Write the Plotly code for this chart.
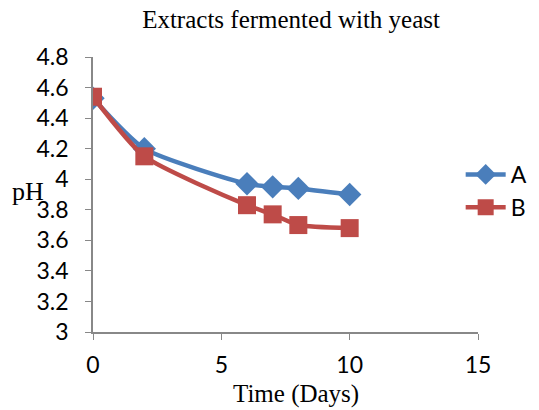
import plotly.graph_objects as go

days = [0, 2, 6, 7, 8, 10]
ph_a = [4.53, 4.20, 3.97, 3.95, 3.94, 3.90]
ph_b = [4.54, 4.15, 3.83, 3.77, 3.70, 3.68]
x_ticks = [0, 5, 10, 15]
y_ticks = [3, 3.2, 3.4, 3.6, 3.8, 4, 4.2, 4.4, 4.6, 4.8]
y_tick_text = ["3", "3.2", "3.4", "3.6", "3.8", "4", "4.2", "4.4", "4.6", "4.8"]

fig = go.Figure()
fig.add_trace(go.Scatter(x=days, y=ph_a, name="A", mode="lines+markers",
                         line=dict(color="#4A7EBB", width=4.5, shape="spline", smoothing=0.6),
                         marker=dict(symbol="diamond", size=18, color="#4A7EBB")))
fig.add_trace(go.Scatter(x=days, y=ph_b, name="B", mode="lines+markers",
                         line=dict(color="#BE4B48", width=4.5, shape="spline", smoothing=0.6),
                         marker=dict(symbol="square", size=18, color="#BE4B48")))

fig.update_layout(
    width=539, height=410,
    margin=dict(l=93, r=61, t=57, b=78, autoexpand=False),
    paper_bgcolor="white", plot_bgcolor="white",
    title=dict(text="Extracts fermented with yeast", x=0.54, xanchor="center", y=0.952, yanchor="middle",
               font=dict(family="Liberation Serif", size=25, color="#000")),
    xaxis=dict(range=[0, 15], tickvals=x_ticks, showgrid=False, zeroline=False,
               showline=True, linecolor="#888", linewidth=1.5,
               ticks="outside", ticklen=6, tickcolor="#888", ticklabelstandoff=6,
               tickfont=dict(family="Lato", size=23, color="#000")),
    yaxis=dict(range=[3, 4.8], tickvals=y_ticks, ticktext=y_tick_text, showgrid=False, zeroline=False,
               showline=True, linecolor="#888", linewidth=1.5,
               ticks="outside", ticklen=6, tickcolor="#888", ticklabelstandoff=12,
               tickfont=dict(family="Lato", size=23, color="#000")),
    legend=dict(x=0.955, y=0.513, xanchor="left", yanchor="middle", bgcolor="rgba(0,0,0,0)",
                font=dict(family="Lato", size=23, color="#000"), itemwidth=40),
    annotations=[
        dict(text="pH", xref="paper", yref="paper", x=-0.169, y=0.51, showarrow=False,
             xanchor="center", yanchor="middle",
             font=dict(family="Liberation Serif", size=26, color="#000")),
        dict(text="Time (Days)", xref="paper", yref="paper", x=0.527, y=-0.225, showarrow=False,
             xanchor="center", yanchor="middle",
             font=dict(family="Liberation Serif", size=25, color="#000")),
    ],
)

fig.write_html("out.html")
